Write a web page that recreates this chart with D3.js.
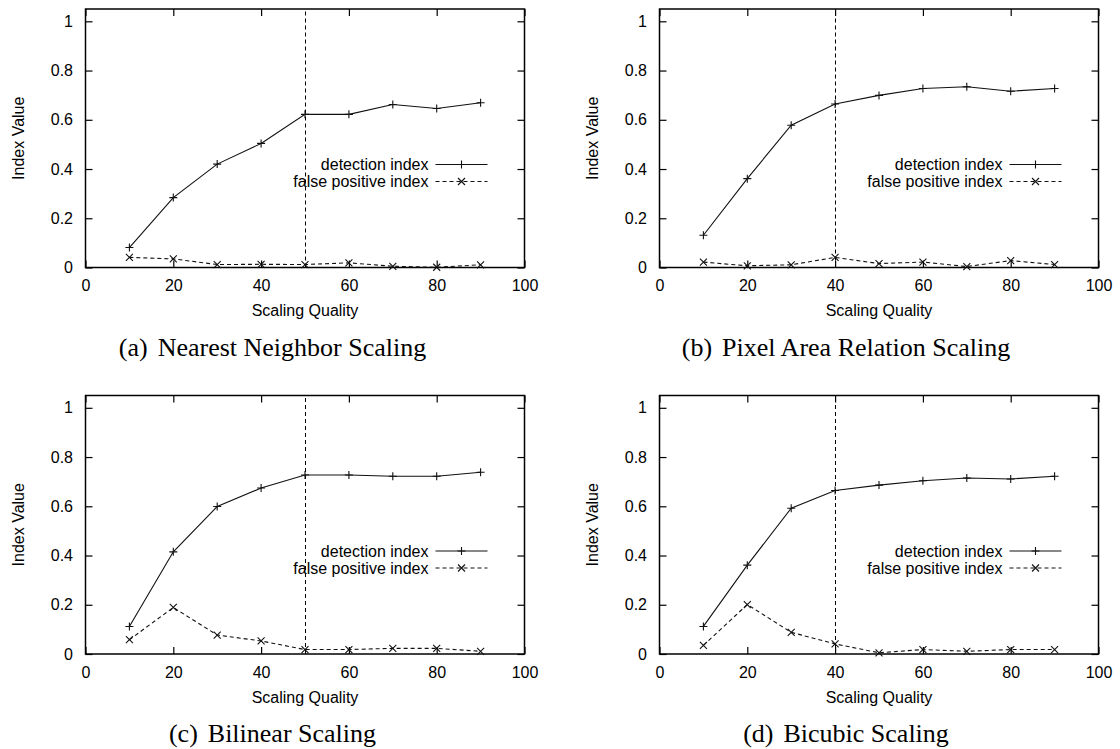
<!DOCTYPE html>
<html>
<head>
<meta charset="utf-8">
<script src="https://cdn.jsdelivr.net/npm/d3@7"></script>
<style>
  html, body { margin: 0; padding: 0; background: #fff; }
  svg { display: block; }
</style>
</head>
<body>
<svg id="fig" width="1120" height="749"></svg>
<script>
// Scaling quality levels (x axis)
const qualities = [10, 20, 30, 40, 50, 60, 70, 80, 90];

// Detection index per scaling method
const detNearest  = [0.081, 0.284, 0.420, 0.504, 0.622, 0.622, 0.662, 0.646, 0.669];
const detPixArea  = [0.131, 0.361, 0.578, 0.664, 0.699, 0.727, 0.734, 0.716, 0.727];
const detBilinear = [0.112, 0.415, 0.599, 0.674, 0.727, 0.727, 0.722, 0.722, 0.738];
const detBicubic  = [0.112, 0.361, 0.592, 0.664, 0.686, 0.704, 0.715, 0.711, 0.722];

// False positive index per scaling method
const fpNearest  = [0.041, 0.035, 0.012, 0.013, 0.012, 0.019, 0.005, 0.001, 0.011];
const fpPixArea  = [0.022, 0.007, 0.011, 0.041, 0.016, 0.022, 0.004, 0.028, 0.012];
const fpBilinear = [0.058, 0.189, 0.077, 0.053, 0.018, 0.018, 0.023, 0.023, 0.011];
const fpBicubic  = [0.035, 0.201, 0.088, 0.041, 0.005, 0.018, 0.011, 0.018, 0.018];

// Quality threshold marked by the vertical dashed line
const thresholds = [50, 40, 50, 40];

const captionTags  = ["(a)", "(b)", "(c)", "(d)"];
const captionNames = ["Nearest Neighbor Scaling", "Pixel Area Relation Scaling",
                      "Bilinear Scaling", "Bicubic Scaling"];
const detSeries = [detNearest, detPixArea, detBilinear, detBicubic];
const fpSeries  = [fpNearest, fpPixArea, fpBilinear, fpBicubic];

const xTicks = [0, 20, 40, 60, 80, 100];
const yTicks = [0, 0.2, 0.4, 0.6, 0.8, 1];
const legendLabels = ["detection index", "false positive index"];

const svg = d3.select("#fig");
const SANS = "'Liberation Sans', Arial, Helvetica, sans-serif";
const SERIF = "'Liberation Serif', 'Times New Roman', serif";

// Panel frames: left/right edge of plot and bottom/top edge
const frames = [
  { left: 85.5,  right: 524.5,  bottom: 267.5, top: 9,     capX: 272.5 },
  { left: 659.5, right: 1098.5, bottom: 267.5, top: 9,     capX: 846 },
  { left: 85.5,  right: 524.5,  bottom: 654,   top: 395.5, capX: 272.5 },
  { left: 659.5, right: 1098.5, bottom: 654,   top: 395.5, capX: 846 }
];

function plusPath(s) { return `M${-s},0H${s}M0,${-s}V${s}`; }
function crossPath(s) { return `M${-s},${-s}L${s},${s}M${-s},${s}L${s},${-s}`; }

frames.forEach((f, i) => {
  const x = d3.scaleLinear().domain([0, 100]).range([f.left, f.right]);
  const y = d3.scaleLinear().domain([0, 1.05]).range([f.bottom, f.top]);
  const g = svg.append("g");

  const tick = 7;
  // Axes with inward ticks, mirrored on the top and right sides
  const styleAxis = sel => {
    sel.select(".domain").remove();
    sel.selectAll(".tick line").attr("stroke", "#000").attr("stroke-width", 1.2);
    sel.selectAll("text").attr("fill", "#000").style("font-family", SANS).style("font-size", "16px");
  };
  g.append("g").attr("transform", `translate(0,${f.bottom})`)
    .call(d3.axisBottom(x).tickValues(xTicks).tickFormat(d3.format("d"))
      .tickSizeInner(-tick).tickSizeOuter(0).tickPadding(12.5))
    .call(styleAxis);
  g.append("g").attr("transform", `translate(0,${f.top})`)
    .call(d3.axisTop(x).tickValues(xTicks).tickFormat("").tickSizeInner(-tick).tickSizeOuter(0))
    .call(styleAxis);
  g.append("g").attr("transform", `translate(${f.left},0)`)
    .call(d3.axisLeft(y).tickValues(yTicks).tickFormat(d => d3.format("")(d))
      .tickSizeInner(-tick).tickSizeOuter(0).tickPadding(12.5))
    .call(styleAxis);
  g.append("g").attr("transform", `translate(${f.right},0)`)
    .call(d3.axisRight(y).tickValues(yTicks).tickFormat("").tickSizeInner(-tick).tickSizeOuter(0))
    .call(styleAxis);

  // Plot border
  g.append("rect")
    .attr("x", f.left).attr("y", f.top)
    .attr("width", f.right - f.left).attr("height", f.bottom - f.top)
    .attr("fill", "none").attr("stroke", "#000").attr("stroke-width", 1.5);

  // Threshold line, snapped to the pixel grid so it stays crisp
  const tx = Math.round(x(thresholds[i])) + 0.5;
  g.append("line")
    .attr("x1", tx).attr("x2", tx)
    .attr("y1", y(0)).attr("y2", f.top)
    .attr("stroke", "#000").attr("stroke-width", 1).attr("stroke-dasharray", "4,3");

  const line = d3.line().x((d, k) => x(qualities[k])).y(d => y(d));

  // Detection index: solid line with plus markers
  g.append("path").datum(detSeries[i])
    .attr("d", line).attr("fill", "none").attr("stroke", "#111").attr("stroke-width", 1.1);
  g.selectAll(".pm").data(detSeries[i]).enter().append("path")
    .attr("transform", (d, k) => `translate(${x(qualities[k])},${y(d)})`)
    .attr("d", plusPath(4)).attr("stroke", "#111").attr("stroke-width", 1.1);

  // False positive index: dashed line with cross markers
  g.append("path").datum(fpSeries[i])
    .attr("d", line).attr("fill", "none").attr("stroke", "#111").attr("stroke-width", 1.1)
    .attr("stroke-dasharray", "4,3");
  g.selectAll(".xm").data(fpSeries[i]).enter().append("path")
    .attr("transform", (d, k) => `translate(${x(qualities[k])},${y(d)})`)
    .attr("d", crossPath(3.5)).attr("stroke", "#111").attr("stroke-width", 1.1);

  // Legend
  const rows = [f.bottom - 103, f.bottom - 86];
  legendLabels.forEach((lab, r) => {
    g.append("text").attr("x", f.left + 343).attr("y", rows[r]).attr("dy", "0.35em")
      .attr("text-anchor", "end").style("font-family", SANS).style("font-size", "16px")
      .attr("fill", "#000").text(lab);
    g.append("line").attr("x1", f.left + 350).attr("x2", f.left + 402)
      .attr("y1", rows[r]).attr("y2", rows[r])
      .attr("stroke", "#111").attr("stroke-width", 1.1)
      .attr("stroke-dasharray", r === 0 ? null : "4,3");
    g.append("path").attr("transform", `translate(${f.left + 376},${rows[r]})`)
      .attr("d", r === 0 ? plusPath(4) : crossPath(3.5))
      .attr("stroke", "#111").attr("stroke-width", 1.1);
  });

  // Axis titles
  g.append("text").attr("x", (f.left + f.right) / 2).attr("y", f.bottom + 43).attr("dy", "0.35em")
    .attr("text-anchor", "middle").style("font-family", SANS).style("font-size", "16px")
    .text("Scaling Quality");
  g.append("text")
    .attr("transform", `translate(${f.left - 67},${(f.top + f.bottom) / 2}) rotate(-90)`)
    .attr("dy", "0.35em").attr("text-anchor", "middle")
    .style("font-family", SANS).style("font-size", "16px").text("Index Value");

  // Sub-figure caption
  const cap = g.append("text").attr("x", f.capX).attr("y", f.bottom + 79).attr("dy", "0.35em")
    .attr("text-anchor", "middle").style("font-family", SERIF).style("font-size", "26px");
  cap.append("tspan").text(captionTags[i]);
  cap.append("tspan").attr("dx", 10).text(captionNames[i]);
});
</script>
</body>
</html>
